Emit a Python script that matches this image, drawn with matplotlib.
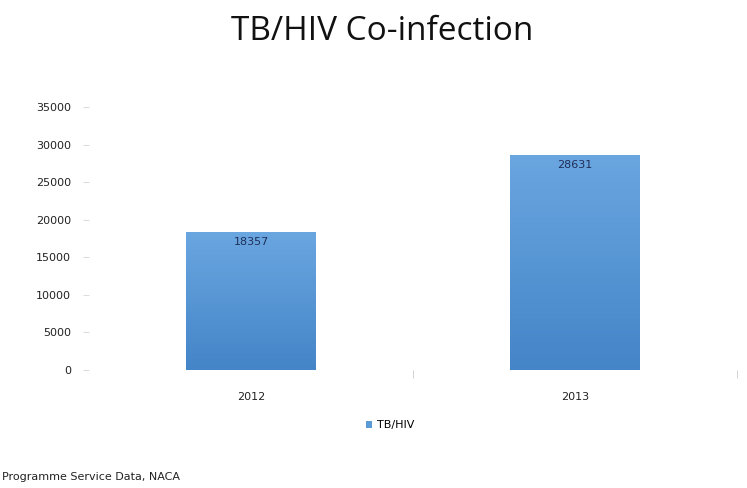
import matplotlib
matplotlib.use("Agg")
import matplotlib.pyplot as plt
import numpy as np
from matplotlib.colors import LinearSegmentedColormap

years = ["2012", "2013"]
values = [18357, 28631]
series_name = "TB/HIV"
yticks = [0, 5000, 10000, 15000, 20000, 25000, 30000, 35000]

fig = plt.figure(figsize=(7.47, 4.88), dpi=100)
ax = fig.add_axes([89/747, (488-370)/488, (737-89)/747, (370-107)/488])

x = np.arange(len(years))
bars = ax.bar(x, values, width=0.4, color="#5b9bd5", label=series_name, zorder=2)

cmap = LinearSegmentedColormap.from_list("g", ["#4485c8", "#6aa6e0"])
grad = np.linspace(0, 1, 256).reshape(-1, 1)
for b in bars:
    x0, y0 = b.get_x(), b.get_y()
    w, h = b.get_width(), b.get_height()
    im = ax.imshow(grad, extent=[x0, x0 + w, y0, y0 + h], origin="lower",
                   cmap=cmap, aspect="auto", zorder=3)
    im.set_clip_path(b)
    ax.text(x0 + w/2, y0 + h - 1300, f"{int(h)}", ha="center", va="center",
            fontsize=8, color="#1f2f5a", zorder=4)

ax.set_xlim(-0.5, 1.5)
ax.set_ylim(0, 35000)
ax.set_yticks(yticks)
ax.set_yticklabels([str(t) for t in yticks], fontsize=8, color="#222222")
ax.set_xticks(x)
ax.set_xticklabels(years, fontsize=8, color="#222222")
ax.set_xticks([0.5, 1.5], minor=True)
ax.tick_params(axis="x", which="major", length=0, pad=16)
ax.tick_params(axis="x", which="minor", length=6, color="#cccccc", direction="out")
ax.tick_params(axis="y", length=4, color="#dddddd", pad=9)
for s in ax.spines.values():
    s.set_visible(False)

fig.text(0.512, 0.935, "TB/HIV Co-infection", ha="center", va="center",
         fontsize=24, fontfamily="Open Sans", color="#111111")
fig.legend(handles=[bars], labels=[series_name], loc="center",
           bbox_to_anchor=(0.522, (488-425)/488), frameon=False,
           fontsize=8, handlelength=0.6, handleheight=0.6, handletextpad=0.4)
fig.text(0.003, (488-477)/488, "Programme Service Data, NACA", ha="left",
         va="center", fontsize=8, color="#222222")

fig.savefig("out.png", dpi=100, facecolor="white")
